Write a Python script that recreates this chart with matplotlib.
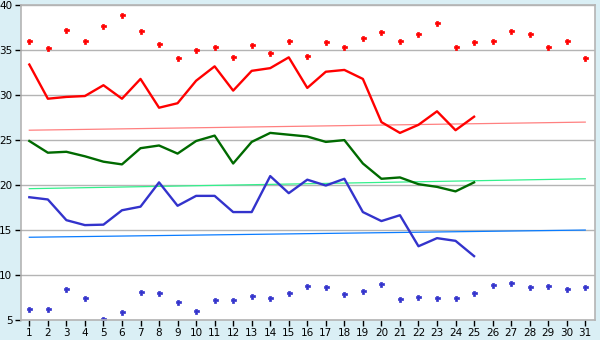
import matplotlib
matplotlib.use("Agg")
import matplotlib.pyplot as plt

# days of the month
days = list(range(1, 32))
days_line = list(range(1, 26))

# upper scatter (red points)
red_pts = [36.0, 35.2, 37.2, 36.0, 37.7, 38.9, 37.1, 35.7, 34.1, 35.0,
           35.3, 34.2, 35.6, 34.7, 36.0, 34.3, 35.9, 35.4, 36.3, 37.0,
           36.0, 36.8, 38.0, 35.3, 35.9, 36.0, 37.1, 36.8, 35.4, 36.0, 34.1]

# red line
red_line = [33.4, 29.6, 29.8, 29.9, 31.1, 29.6, 31.8, 28.6, 29.1, 31.6,
            33.2, 30.5, 32.7, 33.0, 34.2, 30.8, 32.6, 32.8, 31.8, 27.0,
            25.8, 26.7, 28.2, 26.1, 27.6]

# green line
green_line = [24.9, 23.6, 23.7, 23.2, 22.6, 22.3, 24.1, 24.4, 23.5, 24.9,
              25.5, 22.4, 24.8, 25.8, 25.6, 25.4, 24.8, 25.0, 22.4, 20.7,
              20.85, 20.1, 19.8, 19.3, 20.3]

# blue line
blue_line = [18.65, 18.4, 16.1, 15.55, 15.6, 17.2, 17.6, 20.3, 17.7, 18.8,
             18.8, 17.0, 17.0, 21.0, 19.1, 20.6, 19.95, 20.7, 17.0, 16.0,
             16.65, 13.2, 14.1, 13.8, 12.1]

# lower scatter (blue points)
blue_pts = [6.2, 6.2, 8.45, 7.45, 5.1, 5.9, 8.1, 8.0, 7.0, 6.0,
            7.2, 7.2, 7.65, 7.45, 8.0, 8.8, 8.65, 7.9, 8.2, 9.0,
            7.3, 7.55, 7.45, 7.45, 8.0, 8.9, 9.1, 8.65, 8.8, 8.45, 8.65]

# trend lines: value at day 1 and day 31
red_trend = [26.1, 27.0]
green_trend = [19.6, 20.7]
blue_trend = [14.2, 15.0]
trend_days = [1, 31]

bg = "#daeff5"
grid_col = "#b4b4b4"

fig = plt.figure(figsize=(6, 3.4), dpi=100, facecolor=bg)
ax = fig.add_axes([0.0345, 0.0588, 0.957, 0.926])
ax.set_facecolor("white")

ax.set_xlim(0.535, 31.52)
ax.set_ylim(5, 40)
ax.set_yticks([5, 10, 15, 20, 25, 30, 35, 40])
ax.set_xticks(days)
ax.yaxis.grid(True, color=grid_col, lw=1.0)
ax.set_axisbelow(True)
for s in ax.spines.values():
    s.set_color(grid_col)
    s.set_linewidth(1.2)
ax.tick_params(axis="both", colors="black", labelsize=7.5, length=4,
               width=1, pad=2)

# trends
ax.plot(trend_days, red_trend, color="#ff8080", lw=0.9)
ax.plot(trend_days, green_trend, color="#33f08c", lw=0.9)
ax.plot(trend_days, blue_trend, color="#0a7cff", lw=0.9)

# main lines
ax.plot(days_line, red_line, color="#ff0000", lw=1.7)
ax.plot(days_line, green_line, color="#006a00", lw=1.7)
ax.plot(days_line, blue_line, color="#3333cc", lw=1.7)

# scatter points
ax.plot(days, red_pts, ls="none", marker="P", ms=3.6, color="#ff0000",
        mec="#ff0000", mew=0.5)
ax.plot(days, blue_pts, ls="none", marker="P", ms=3.6, color="#3333cc",
        mec="#3333cc", mew=0.5)

fig.savefig("out.png", dpi=100, facecolor=bg)
